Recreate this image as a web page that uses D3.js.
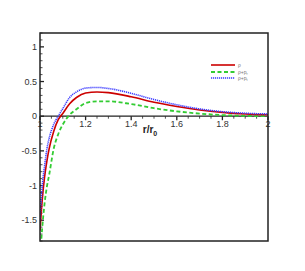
<!DOCTYPE html>
<html><head><meta charset="utf-8">
<script src="https://cdn.jsdelivr.net/npm/d3@7/dist/d3.min.js"></script>
<style>body{margin:0;background:#fff}svg{display:block}</style>
</head><body>
<script>
const rVals   = [1.0, 1.01, 1.02, 1.03, 1.04, 1.06, 1.08, 1.1, 1.13, 1.16, 1.2, 1.25, 1.3, 1.4, 1.5, 1.6, 1.7, 1.8, 1.9, 2.0];
const rho     = [-1.65, -1.2, -0.88, -0.65, -0.47, -0.22, -0.05, 0.04, 0.18, 0.27, 0.335, 0.35, 0.34, 0.28, 0.2, 0.14, 0.09, 0.055, 0.032, 0.02];
const rhoPr   = [-2.05, -1.6, -1.26, -1.02, -0.85, -0.47, -0.26, -0.12, 0.02, 0.1, 0.19, 0.215, 0.215, 0.175, 0.115, 0.07, 0.038, 0.016, 0.005, 0.0];
const rhoPt   = [-1.5, -1.0, -0.72, -0.48, -0.32, -0.12, 0.0, 0.11, 0.27, 0.35, 0.405, 0.415, 0.4, 0.33, 0.24, 0.165, 0.105, 0.065, 0.043, 0.032];
const xTicks  = [1, 1.2, 1.4, 1.6, 1.8, 2];
const yTicks  = [-1.5, -1, -0.5, 0, 0.5, 1];
const seriesNames = ["ρ", "ρ+p", "ρ+p"];
const seriesSubs  = ["", "r", "t"];

const W = 305, H = 271;
const L = 40, R = 268, T = 33, B = 241;
const svg = d3.select("body").append("svg").attr("width", W).attr("height", H);
const x = d3.scaleLinear().domain([1, 2]).range([L, R]);
const y = d3.scaleLinear().domain([-1.8, 1.2]).range([B, T]);

svg.append("defs").append("clipPath").attr("id", "clip")
  .append("rect").attr("x", L).attr("y", T).attr("width", R - L).attr("height", B - T);

const isMajor = (arr, d) => arr.some(t => Math.abs(t - d) < 1e-6);

// y ticks (inward)
const yMinor = d3.range(-1.8, 1.201, 0.1).map(v => +v.toFixed(2));
svg.append("g").selectAll("line").data(yMinor).join("line")
  .attr("x1", L).attr("x2", d => L + (isMajor(yTicks, d) ? 4 : 2.5))
  .attr("y1", d => y(d)).attr("y2", d => y(d))
  .attr("stroke", "#222").attr("stroke-width", d => isMajor(yTicks, d) ? 1.3 : 0.8);

// x ticks on zero line (pointing down)
const xMinor = d3.range(1, 2.001, 0.05).map(v => +v.toFixed(2));
svg.append("g").selectAll("line").data(xMinor).join("line")
  .attr("x1", d => x(d)).attr("x2", d => x(d))
  .attr("y1", y(0)).attr("y2", d => y(0) + (isMajor(xTicks, d) ? 4 : 2.5))
  .attr("stroke", "#222").attr("stroke-width", d => isMajor(xTicks, d) ? 1.3 : 0.8);

// y labels
svg.append("g").selectAll("text").data(yTicks).join("text")
  .attr("x", L - 3).attr("y", d => y(d) + 3.2).attr("text-anchor", "end")
  .attr("font-family", "Liberation Sans, Arial, sans-serif").attr("font-size", 9).attr("fill", "#333")
  .text(d => String(d));

// x labels
svg.append("g").selectAll("text").data(xTicks).join("text")
  .attr("x", d => x(d)).attr("y", y(0) + 11).attr("text-anchor", "middle")
  .attr("font-family", "Liberation Sans, Arial, sans-serif").attr("font-size", 9).attr("fill", "#333")
  .text(d => String(d));

// x title
const xt = svg.append("text").attr("x", 150).attr("y", 133).attr("text-anchor", "middle")
  .attr("font-family", "Liberation Sans, Arial, sans-serif").attr("font-size", 10).attr("font-weight", "bold").attr("fill", "#222");
xt.append("tspan").text("r/r");
xt.append("tspan").attr("font-size", 7).attr("dy", 3).text("0");

// zero line
svg.append("line").attr("x1", L).attr("x2", R).attr("y1", y(0)).attr("y2", y(0))
  .attr("stroke", "#222").attr("stroke-width", 1.3);

// curves
const styles = [
  {data: rho,   color: "#cc0000", width: 1.6, dash: null},
  {data: rhoPr, color: "#33cc33", width: 1.8, dash: "4,2.5"},
  {data: rhoPt, color: "#3b3bff", width: 1.6, dash: "1.2,0.8"}
];
const line = d3.line().x(d => x(d[0])).y(d => y(d[1])).curve(d3.curveMonotoneX);
const g = svg.append("g").attr("clip-path", "url(#clip)");
[styles[1], styles[0], styles[2]].forEach(s => {
  g.append("path").datum(rVals.map((r, i) => [r, s.data[i]]))
    .attr("d", line).attr("fill", "none").attr("stroke", s.color)
    .attr("stroke-width", s.width).attr("stroke-dasharray", s.dash);
});

// frame
svg.append("rect").attr("x", L).attr("y", T).attr("width", R - L).attr("height", B - T)
  .attr("fill", "none").attr("stroke", "#222").attr("stroke-width", 1.5);

// legend
const legY = [65, 72, 78];
styles.forEach((s, i) => {
  svg.append("line").attr("x1", 211).attr("x2", 235).attr("y1", legY[i]).attr("y2", legY[i])
    .attr("stroke", s.color).attr("stroke-width", s.width).attr("stroke-dasharray", s.dash);
  const t = svg.append("text").attr("x", 238).attr("y", legY[i] + 1.8)
    .attr("font-family", "Liberation Sans, Arial, sans-serif").attr("font-size", 5).attr("fill", "#777");
  t.append("tspan").text(seriesNames[i]);
  if (seriesSubs[i]) t.append("tspan").attr("font-size", 3.5).attr("dy", 1).text(seriesSubs[i]);
});
</script>
</body></html>
